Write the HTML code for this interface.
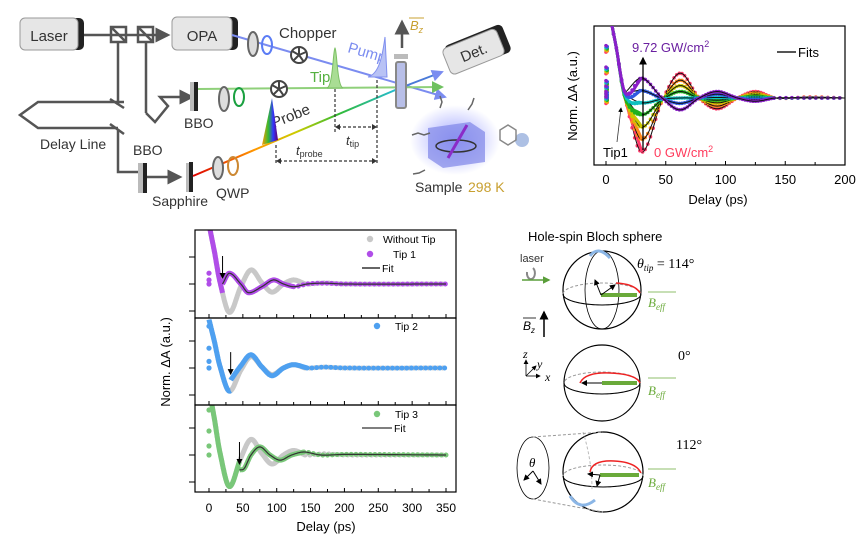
<!DOCTYPE html>
<html><head><meta charset="utf-8"><style>
html,body{margin:0;padding:0;background:#fff;}
svg{display:block;font-family:"Liberation Sans",Arial,sans-serif;}
</style></head><body>
<svg id="fig" width="863" height="548" viewBox="0 0 863 548" xmlns="http://www.w3.org/2000/svg">
<defs>
<marker id="ah" markerWidth="6" markerHeight="6" refX="5" refY="3" orient="auto"><path d="M0,0 L6,3 L0,6 z" fill="#555"/></marker>
<marker id="ahb" markerWidth="6" markerHeight="6" refX="5" refY="3" orient="auto"><path d="M0,0 L6,3 L0,6 z" fill="#000"/></marker>
<marker id="ahbl" markerWidth="6" markerHeight="6" refX="5" refY="3" orient="auto"><path d="M0,0 L6,3 L0,6 z" fill="#7b8cf0"/></marker>
<marker id="ahg" markerWidth="6" markerHeight="6" refX="5" refY="3" orient="auto"><path d="M0,0 L6,3 L0,6 z" fill="#6fc160"/></marker>
<marker id="ahgr" markerWidth="5" markerHeight="5" refX="4" refY="2.5" orient="auto"><path d="M0,0 L5,2.5 L0,5 z" fill="#5a9e3a"/></marker>
<linearGradient id="rain" x1="0" x2="1"><stop offset="0" stop-color="#d00"/><stop offset="0.3" stop-color="#f90"/><stop offset="0.5" stop-color="#cc0"/><stop offset="0.7" stop-color="#3b3"/><stop offset="1" stop-color="#2bd"/></linearGradient>
<linearGradient id="rainv" x1="0" x2="1"><stop offset="0" stop-color="#f90"/><stop offset="0.4" stop-color="#3b3"/><stop offset="0.7" stop-color="#33f"/><stop offset="1" stop-color="#606"/></linearGradient>
<radialGradient id="glow"><stop offset="0" stop-color="#8a90ff" stop-opacity="0.8"/><stop offset="1" stop-color="#8a90ff" stop-opacity="0"/></radialGradient>
<clipPath id="clipTR"><rect x="594" y="26" width="251" height="139"/></clipPath>
<clipPath id="clipP1"><rect x="195" y="230" width="261" height="88"/></clipPath>
<clipPath id="clipP2"><rect x="195" y="318" width="261" height="87"/></clipPath>
<clipPath id="clipP3"><rect x="195" y="405" width="261" height="87"/></clipPath>
</defs>

<!-- ===== Schematic ===== -->
<g>
 <g>
  <rect x="22" y="18" width="62" height="32" rx="5" fill="#222"/>
  <rect x="20" y="18" width="58" height="32" rx="5" fill="#e6e6e6" stroke="#999"/>
  <text x="49" y="41" font-size="15" text-anchor="middle" fill="#333">Laser</text>
 </g>
 <g>
  <rect x="174" y="17" width="64" height="33" rx="5" fill="#222"/>
  <rect x="172" y="17" width="60" height="33" rx="5" fill="#e6e6e6" stroke="#999"/>
  <text x="202" y="41" font-size="15" text-anchor="middle" fill="#333">OPA</text>
 </g>
 <g stroke="#555" stroke-width="2.5" fill="none">
  <line x1="84" y1="35" x2="168" y2="35" marker-end="url(#ah)"/>
  <rect x="111" y="27" width="15" height="15"/><line x1="111" y1="27" x2="126" y2="42"/>
  <rect x="138" y="27" width="15" height="15"/><line x1="138" y1="27" x2="153" y2="42"/>
  <line x1="118" y1="42" x2="118" y2="105"/>
  <line x1="146" y1="42" x2="146" y2="113"/>
  <path d="M146,113 L155,122 L168,106 L160,97 L180,97" />
  <line x1="180" y1="97" x2="192" y2="97" marker-end="url(#ah)"/>
  <path d="M124,102 L38,102 L20,115 L38,128 L118,128"/>
  <line x1="110" y1="99" x2="124" y2="108"/>
  <line x1="110" y1="124" x2="124" y2="134"/>
  <path d="M118,130 L118,172 L140,172"/>
  <line x1="146" y1="177" x2="180" y2="177" marker-end="url(#ah)"/>
 </g>
 <text x="40" y="149" font-size="14" fill="#333">Delay Line</text>
 <text x="133" y="155" font-size="14" fill="#333">BBO</text>
 <text x="184" y="128" font-size="14" fill="#333">BBO</text>
 <text x="152" y="206" font-size="14" fill="#333">Sapphire</text>
 <text x="216" y="198" font-size="14" fill="#333">QWP</text>
 <rect x="138" y="163" width="8" height="30" fill="#bbb"/><rect x="143" y="163" width="4" height="30" fill="#222"/>
 <rect x="186" y="163" width="5" height="29" fill="#bbb"/><rect x="189" y="162" width="4" height="30" fill="#222"/>
 <rect x="190" y="82" width="5" height="29" fill="#bbb"/><rect x="194" y="82" width="4" height="29" fill="#222"/>
 <!-- beams -->
 <line x1="232" y1="35" x2="445" y2="97" stroke="#7b8cf0" stroke-width="2" marker-end="url(#ahbl)"/>
 <line x1="198" y1="89" x2="442" y2="87" stroke="#8fd07a" stroke-width="2" marker-end="url(#ahg)"/>
 <line x1="193" y1="176" x2="400" y2="88" stroke="url(#rain)" stroke-width="2"/>
 <line x1="400" y1="88" x2="442" y2="72" stroke="#4a7ad8" stroke-width="2" marker-end="url(#ahbl)"/>
 <!-- optics -->
 <ellipse cx="253" cy="44" rx="5" ry="12" fill="#ddd" stroke="#666" stroke-width="2"/>
 <ellipse cx="267" cy="45" rx="5" ry="9" fill="none" stroke="#5b7cf5" stroke-width="2"/>
 <ellipse cx="224" cy="99" rx="5" ry="12" fill="#ddd" stroke="#666" stroke-width="2"/>
 <ellipse cx="239" cy="97" rx="5" ry="9" fill="none" stroke="#1aa040" stroke-width="2"/>
 <ellipse cx="218" cy="168" rx="5" ry="11" fill="#ddd" stroke="#666" stroke-width="2"/>
 <ellipse cx="233" cy="166" rx="5" ry="9" fill="none" stroke="#c83" stroke-width="2"/>
 <g><circle cx="299" cy="55" r="8" fill="#fff" stroke="#444" stroke-width="2"/><path d="M299,55 L299,47 M299,55 L306,52 M299,55 L304,62 M299,55 L293,61 M299,55 L292,51" stroke="#444" stroke-width="2"/></g>
 <g><circle cx="279" cy="89" r="8" fill="#fff" stroke="#444" stroke-width="2"/><path d="M279,89 L279,81 M279,89 L286,86 M279,89 L284,96 M279,89 L273,95 M279,89 L272,85" stroke="#444" stroke-width="2"/></g>
 <text x="279" y="38" font-size="15" fill="#333">Chopper</text>
 <text x="347" y="52" font-size="15" fill="#7b8cf0" transform="rotate(16 347 52)">Pump</text>
 <text x="310" y="82" font-size="15" fill="#55b040">Tip</text>
 <text x="274" y="128" font-size="15" fill="#333" transform="rotate(-22 274 128)">Probe</text>
 <path d="M327,88 C333,86 333,50 335,48 C337,50 337,86 343,88 Z" fill="#a9dd94" stroke="#7cc064"/>
 <path d="M368,77 C378,74 382,60 385,37 L387,77 Z" fill="#b8c2f5" stroke="#8090ef"/>
 <path d="M262,145 L272,98 L278,140 Z" fill="url(#rainv)"/>
 <!-- sample cuvette -->
 <rect x="396" y="62" width="10" height="46" rx="2" fill="#b8bfe8" stroke="#888" stroke-width="2"/>
 <rect x="394" y="54" width="14" height="5" fill="#bbb"/>
 <line x1="402" y1="48" x2="402" y2="22" stroke="#555" stroke-width="2.5" marker-end="url(#ah)"/>
 <text x="410" y="30" font-size="13" font-style="italic" fill="#c8a030">B<tspan font-size="9" dy="3">z</tspan></text>
 <line x1="409" y1="18" x2="424" y2="18" stroke="#c8a030"/>
 <g transform="rotate(-22 475 50)">
  <rect x="447" y="35" width="62" height="30" rx="5" fill="#222"/>
  <rect x="444" y="37" width="58" height="28" rx="5" fill="#e6e6e6" stroke="#999"/>
  <text x="473" y="57" font-size="15" text-anchor="middle" fill="#333">Det.</text>
 </g>
 <!-- dashed timing -->
 <g stroke="#333" stroke-width="1.2" stroke-dasharray="3,2" fill="none">
  <line x1="335" y1="89" x2="335" y2="133"/>
  <line x1="377" y1="80" x2="377" y2="165"/>
  <line x1="276" y1="145" x2="276" y2="165"/>
  <line x1="338" y1="127" x2="374" y2="127"/>
  <line x1="279" y1="161" x2="374" y2="161"/>
 </g>
 <path d="M335,127 l5,-3 v6 z M377,127 l-5,-3 v6 z M276,161 l5,-3 v6 z M377,161 l-5,-3 v6 z" fill="#333"/>
 <text x="346" y="145" font-size="13" font-style="italic" fill="#333">t<tspan font-size="9" font-style="normal" dy="2">tip</tspan></text>
 <text x="296" y="155" font-size="13" font-style="italic" fill="#333">t<tspan font-size="9" font-style="normal" dy="2">probe</tspan></text>
 <!-- sample cube -->
 <g>
  <ellipse cx="455" cy="140" rx="45" ry="35" fill="url(#glow)"/>
  <path d="M428,128 L470,122 L485,132 L485,162 L443,168 L428,158 Z" fill="#7f86e8" opacity="0.7"/>
  <ellipse cx="456" cy="146" rx="20" ry="6" fill="none" stroke="#333" stroke-width="1.5"/>
  <line x1="448" y1="158" x2="467" y2="125" stroke="#8a2bc8" stroke-width="3"/>
  <path d="M412,135 l6,-2 l6,2 l6,-2 M440,108 l2,-6 l-2,-6 M468,110 l4,-6 l2,-6 M425,170 l-6,3 l-6,1" stroke="#666" stroke-width="1.5" fill="none"/>
  <circle cx="522" cy="140" r="7" fill="#8aa5d8" opacity="0.7"/>
  <path d="M500,130 l8,-5 l8,5 l0,10 l-8,5 l-8,-5 z" fill="none" stroke="#888" stroke-width="1.5"/>
 </g>
 <text x="415" y="192" font-size="14" fill="#333">Sample</text>
 <text x="468" y="192" font-size="14" fill="#c8a030">298 K</text>
</g>

<!-- ===== Top-right chart ===== -->
<g id="trChart">
 <rect x="594" y="26" width="251" height="139" fill="none" stroke="#000" stroke-width="1.2"/>
 <g id="trMarks" clip-path="url(#clipTR)"></g>
 <g id="trAxis"></g>
 <text x="718" y="204" font-size="13" text-anchor="middle">Delay (ps)</text>
 <text x="0" y="0" font-size="13" text-anchor="middle" transform="translate(577 96) rotate(-90)">Norm. ΔA (a.u.)</text>
 <line x1="643" y1="150" x2="643" y2="58" stroke="#000" stroke-width="1.3" marker-end="url(#ahb)"/>
 <text x="632" y="52" font-size="13" fill="#6a1fa0">9.72 GW/cm<tspan font-size="9" dy="-5">2</tspan></text>
 <text x="654" y="157" font-size="13" fill="#ff3b5c">0 GW/cm<tspan font-size="9" dy="-5">2</tspan></text>
 <text x="603" y="157" font-size="13">Tip1</text>
 <line x1="617" y1="142" x2="621" y2="108" stroke="#333" stroke-width="0.8" marker-end="url(#ahb)"/>
 <line x1="777" y1="52" x2="796" y2="52" stroke="#555" stroke-width="2"/>
 <text x="798" y="57" font-size="13">Fits</text>
</g>

<!-- ===== Bottom-left chart ===== -->
<g id="blChart">
 <g id="blMarks"></g>
 <g id="blAxis"></g>
 <text x="326" y="531" font-size="13" text-anchor="middle">Delay (ps)</text>
 <text x="0" y="0" font-size="13" text-anchor="middle" transform="translate(170 362) rotate(-90)">Norm. ΔA (a.u.)</text>
 <g font-size="10.5">
  <circle cx="370" cy="239" r="3.2" fill="#c8c8c8"/><text x="383" y="243">Without Tip</text>
  <circle cx="370" cy="254" r="3.2" fill="#b04de8"/><text x="393" y="258">Tip 1</text>
  <line x1="362" y1="268" x2="380" y2="268" stroke="#333" stroke-width="1.5"/><text x="382" y="272">Fit</text>
  <circle cx="377" cy="326" r="3.2" fill="#4ea0f0"/><text x="395" y="330">Tip 2</text>
  <circle cx="377" cy="414" r="3.2" fill="#79c779"/><text x="395" y="418">Tip 3</text>
  <line x1="362" y1="428" x2="392" y2="428" stroke="#333" stroke-width="1.2"/><text x="394" y="432">Fit</text>
 </g>
</g>

<!-- ===== Bloch spheres ===== -->
<g>
 <text x="528" y="241" font-size="13">Hole-spin Bloch sphere</text>
 <text x="520" y="262" font-size="11" fill="#333">laser</text>
 <path d="M527,272 a4,6 0 1 0 6,-4" fill="none" stroke="#888" stroke-width="2"/>
 <line x1="522" y1="280" x2="549" y2="280" stroke="#5a9e3a" stroke-width="1.5" marker-end="url(#ahgr)"/>
 <text x="523" y="330" font-size="12" font-style="italic">B<tspan font-size="8" dy="3">z</tspan></text>
 <line x1="523" y1="318" x2="536" y2="318" stroke="#000" stroke-width="0.8"/>
 <line x1="544" y1="337" x2="544" y2="312" stroke="#000" stroke-width="1.5" marker-end="url(#ahb)"/>
 <!-- sphere 1 -->
 <g>
  <circle cx="602" cy="290" r="39" fill="none" stroke="#000" stroke-width="1.2"/>
  <ellipse cx="602" cy="294" rx="39" ry="11" fill="none" stroke="#999" stroke-dasharray="3,2"/>
  <path d="M563,294 a39,11 0 0 0 78,0" fill="none" stroke="#000"/>
  <ellipse cx="602" cy="290" rx="17" ry="39" fill="none" stroke="#000" stroke-width="0.8"/>
  <path d="M616,283 Q635,284 640,293" fill="none" stroke="#e22" stroke-width="1.5"/>
  <line x1="601" y1="295" x2="637" y2="295" stroke="#6aaa3a" stroke-width="4"/>
  <line x1="601" y1="295" x2="595" y2="280" stroke="#000" marker-end="url(#ahb)"/>
  <line x1="601" y1="295" x2="615" y2="285" stroke="#000" marker-end="url(#ahb)"/>
  <path d="M590,256 Q598,245 610,258" fill="none" stroke="#8bb6e6" stroke-width="3"/>
 </g>
 <text x="637" y="268" font-size="14" font-family="Liberation Serif,serif"><tspan font-style="italic">θ</tspan><tspan font-style="italic" font-size="9" dy="3">tip</tspan><tspan dy="-3"> = 114°</tspan></text>
 <text x="648" y="307" font-size="13" font-style="italic" fill="#6aaa3a" font-family="Liberation Serif,serif">B<tspan font-size="9" dy="3">eff</tspan></text>
 <line x1="648" y1="292" x2="676" y2="292" stroke="#6aaa3a" stroke-width="0.8"/>
 <!-- sphere 2 -->
 <g>
  <circle cx="602" cy="383" r="38" fill="none" stroke="#000" stroke-width="1.2"/>
  <ellipse cx="602" cy="383" rx="38" ry="11" fill="none" stroke="#999" stroke-dasharray="3,2"/>
  <path d="M564,383 a38,11 0 0 0 76,0" fill="none" stroke="#000"/>
  <path d="M580,383 Q585,372 610,373 Q636,374 640,383" fill="none" stroke="#e22" stroke-width="1.5"/>
  <line x1="602" y1="383" x2="637" y2="383" stroke="#6aaa3a" stroke-width="4"/>
  <line x1="602" y1="383" x2="582" y2="383" stroke="#000" marker-end="url(#ahb)"/>
 </g>
 <text x="678" y="360" font-size="14" font-family="Liberation Serif,serif">0°</text>
 <text x="648" y="395" font-size="13" font-style="italic" fill="#6aaa3a" font-family="Liberation Serif,serif">B<tspan font-size="9" dy="3">eff</tspan></text>
 <line x1="648" y1="378" x2="676" y2="378" stroke="#6aaa3a" stroke-width="0.8"/>
 <g stroke="#000" stroke-width="0.8" fill="none">
  <line x1="526" y1="376" x2="526" y2="360" marker-end="url(#ahb)"/>
  <line x1="526" y1="376" x2="540" y2="376" marker-end="url(#ahb)"/>
  <line x1="526" y1="376" x2="536" y2="366" marker-end="url(#ahb)"/>
 </g>
 <text x="523" y="358" font-size="12" font-style="italic" font-family="Liberation Serif,serif">z</text>
 <text x="537" y="368" font-size="12" font-style="italic" font-family="Liberation Serif,serif">y</text>
 <text x="545" y="381" font-size="12" font-style="italic" font-family="Liberation Serif,serif">x</text>
 <!-- sphere 3 -->
 <g>
  <circle cx="603" cy="472" r="40" fill="none" stroke="#000" stroke-width="1.2"/>
  <ellipse cx="603" cy="476" rx="40" ry="11" fill="none" stroke="#999" stroke-dasharray="3,2"/>
  <path d="M563,476 a40,11 0 0 0 80,0" fill="none" stroke="#000"/>
  <path d="M583,432 Q592,460 592,490" fill="none" stroke="#bbb" stroke-dasharray="3,2"/>
  <path d="M590,472 Q592,460 614,461 Q636,462 641,473" fill="none" stroke="#e22" stroke-width="1.5"/>
  <line x1="600" y1="475" x2="639" y2="475" stroke="#6aaa3a" stroke-width="4"/>
  <line x1="600" y1="475" x2="588" y2="474" stroke="#000" marker-end="url(#ahb)"/>
  <line x1="600" y1="475" x2="597" y2="486" stroke="#000" marker-end="url(#ahb)"/>
  <path d="M570,496 Q580,512 595,500" fill="none" stroke="#8bb6e6" stroke-width="3"/>
  <ellipse cx="533" cy="468" rx="16" ry="31" fill="none" stroke="#000" stroke-width="0.8"/>
  <line x1="533" y1="437" x2="603" y2="432" stroke="#999" stroke-dasharray="3,2"/>
  <line x1="533" y1="499" x2="603" y2="512" stroke="#999" stroke-dasharray="3,2"/>
  <line x1="533" y1="471" x2="524" y2="480" stroke="#000" marker-end="url(#ahb)"/>
  <line x1="533" y1="471" x2="541" y2="484" stroke="#000" marker-end="url(#ahb)"/>
 </g>
 <text x="529" y="467" font-size="13" font-style="italic" font-family="Liberation Serif,serif">θ</text>
 <text x="676" y="449" font-size="14" font-family="Liberation Serif,serif">112°</text>
 <text x="648" y="487" font-size="13" font-style="italic" fill="#6aaa3a" font-family="Liberation Serif,serif">B<tspan font-size="9" dy="3">eff</tspan></text>
 <line x1="648" y1="469" x2="676" y2="469" stroke="#6aaa3a" stroke-width="0.8"/>
</g>
</svg>

<script>
// ---------- Top-right chart data ----------
const trDelays = [0, 8, 16, 30, 47, 62, 78, 93, 110, 125, 142, 170, 200];
const trPowers = ["0", "1.6", "3.2", "4.9", "6.5", "8.1", "9.72"];
const trSeries0 = [1.9, 1.0, 0.0, -1.0, -0.05, 0.46, 0.0, -0.20, 0.0, 0.12, 0.0, 0.02, 0];
const trSeries1 = [1.9, 1.0, 0.0, -0.77, -0.05, 0.33, 0.0, -0.15, 0.0, 0.09, 0.0, 0.01, 0];
const trSeries2 = [1.9, 1.0, 0.0, -0.54, -0.04, 0.23, 0.0, -0.09, 0.0, 0.06, 0.0, 0.01, 0];
const trSeries3 = [1.9, 1.0, 0.0, -0.31, -0.03, 0.12, 0.0, -0.04, 0.0, 0.03, 0.0, 0.0, 0];
const trSeries4 = [1.9, 1.0, 0.05, -0.09, -0.02, 0.0, 0.0, 0.01, 0.0, 0.0, 0.0, 0.0, 0];
const trSeries5 = [1.9, 1.0, 0.08, 0.14, -0.01, -0.10, 0.0, 0.07, 0.0, -0.03, 0.0, 0.0, 0];
const trSeries6 = [1.9, 1.0, 0.1, 0.37, 0.0, -0.22, 0.0, 0.12, 0.0, -0.06, 0.0, 0.0, 0];
const trColors = ["#ff3b6b", "#ff8a1c", "#c8c800", "#20b020", "#10c0c0", "#2f5ae0", "#8a1fc8"];
const trXTicks = [0, 50, 100, 150, 200];
const trZeroDots = [0.0, 0.1, -0.05, 0.2, 0.45, 0.85, -0.1];

// ---------- Bottom-left chart data ----------
const blXTicks = [0, 50, 100, 150, 200, 250, 300, 350];
const grayDelays = [0, 8, 16, 30, 47, 62, 78, 93, 110, 125, 142, 170, 200, 350];
const grayValues = [2.2, 1.2, 0.1, -1.05, -0.1, 0.52, 0.05, -0.3, 0.0, 0.15, 0.0, 0.04, 0.0, 0.0];
const tip1Delays = [20, 30, 47, 58, 78, 95, 110, 125, 145, 170, 200, 350];
const tip1Values = [0.0, 0.4, 0.0, -0.32, -0.1, 0.15, 0.0, -0.1, 0.0, 0.03, 0.0, 0.0];
const tip2Delays = [32, 47, 62, 78, 93, 110, 125, 145, 170, 200, 350];
const tip2Values = [-0.55, 0.1, 0.6, 0.05, -0.35, 0.0, 0.15, 0.0, 0.04, 0.0, 0.0];
const tip3Delays = [45, 52, 62, 75, 90, 105, 122, 140, 165, 200, 350];
const tip3Values = [-0.5, -0.45, 0.0, 0.27, 0.0, -0.17, 0.0, 0.1, 0.0, 0.02, 0.0];
const zeroDots1 = [0.4, 0.0, 0.15];
const zeroDots2 = [1.9, 0.9, 0.3, 0.0];
const zeroDots3 = [1.5, 0.8, 0.3, 0.0];

const NS = "http://www.w3.org/2000/svg";
function mk(tag, attrs, parent) {
  const e = document.createElementNS(NS, tag);
  for (const k in attrs) e.setAttribute(k, attrs[k]);
  parent.appendChild(e);
  return e;
}
function interp(xs, ys, x) {
  const n = xs.length;
  if (x <= xs[0]) return ys[0];
  if (x >= xs[n - 1]) return ys[n - 1];
  let i = 0;
  while (x > xs[i + 1]) i++;
  const h = xs[i + 1] - xs[i], t = (x - xs[i]) / h;
  const m = j => {
    if (j === 0) return (ys[1] - ys[0]) / (xs[1] - xs[0]);
    if (j === n - 1) return (ys[n - 1] - ys[n - 2]) / (xs[n - 1] - xs[n - 2]);
    return (ys[j + 1] - ys[j - 1]) / (xs[j + 1] - xs[j - 1]);
  };
  const t2 = t * t, t3 = t2 * t;
  return (2*t3 - 3*t2 + 1) * ys[i] + (t3 - 2*t2 + t) * h * m(i) + (-2*t3 + 3*t2) * ys[i + 1] + (t3 - t2) * h * m(i + 1);
}
function curvePath(xs, ys, sx, sy, step) {
  let d = "";
  for (let x = xs[0]; x <= xs[xs.length - 1] + 1e-9; x += step) {
    d += (d ? " L" : "M") + sx(x).toFixed(1) + "," + sy(interp(xs, ys, x)).toFixed(1);
  }
  return d;
}

// ---- Top-right ----
(function () {
  const sx = v => 606 + v * (845 - 606) / 200;
  const sy = v => 98 - v * 54;
  const marks = document.getElementById("trMarks");
  const axis = document.getElementById("trAxis");
  const all = [trSeries0, trSeries1, trSeries2, trSeries3, trSeries4, trSeries5, trSeries6];
  all.forEach((ser, si) => {
    const g = mk("g", {}, marks);
    
    
    for (let x = 2; x <= 200; x += (x < 140 ? 2.2 : 5)) {
      const c = mk("circle", { cx: sx(x).toFixed(1), cy: sy(interp(trDelays, ser, x)).toFixed(1), r: 1.8, fill: trColors[si] }, g);
      
      
    }
    trZeroDots.forEach((v, k) => {
      const c = mk("circle", { cx: sx(0) + (si % 2) * 1.2, cy: sy(v + si * 0.02), r: 1.8, fill: trColors[si] }, g);
      
      
    });
    const p = mk("path", { d: curvePath(trDelays.slice(2), ser.slice(2), sx, sy, 1), fill: "none", stroke: "#111", "stroke-width": 1 }, g);
    
    
    const p2 = mk("path", { d: curvePath(trDelays.slice(0, 4), ser.slice(0, 4), sx, sy, 0.5), fill: "none", stroke: trColors[si], "stroke-width": 3 }, g);
    
    
  });
  trXTicks.forEach(t => {
    const l = mk("line", { x1: sx(t), x2: sx(t), y1: 165, y2: 161, stroke: "#000" }, axis);
    
    
    const tx = mk("text", { x: sx(t), y: 184, "font-size": 13, "text-anchor": "middle" }, axis);
    tx.textContent = t;
    
    
    if (t < 200) {
      const m = mk("line", { x1: sx(t + 25), x2: sx(t + 25), y1: 165, y2: 162, stroke: "#000" }, axis);
      
      
    }
  });
})();

// ---- Bottom-left ----
(function () {
  const sx = v => 209 + v * (446 - 209) / 350;
  const marks = document.getElementById("blMarks");
  const axis = document.getElementById("blAxis");
  const panels = [
    { top: 230, bot: 318, base: 284, unit: 27, clip: "clipP1", tipD: tip1Delays, tipV: tip1Values, col: "#b04de8", fit: true, zero: zeroDots1, name: "tip1" },
    { top: 318, bot: 405, base: 368, unit: 22, clip: "clipP2", tipD: tip2Delays, tipV: tip2Values, col: "#4ea0f0", fit: false, zero: zeroDots2, name: "tip2" },
    { top: 405, bot: 492, base: 455, unit: 30, clip: "clipP3", tipD: tip3Delays, tipV: tip3Values, col: "#79c779", fit: true, zero: zeroDots3, name: "tip3" }
  ];
  panels.forEach(P => {
    const sy = v => P.base - v * P.unit;
    const fr = mk("rect", { x: 195, y: P.top, width: 261, height: P.bot - P.top, fill: "none", stroke: "#000", "stroke-width": 1.2 }, axis);
    
    
    const g = mk("g", { "clip-path": "url(#" + P.clip + ")" }, marks);
    
    
    const gp = mk("path", { d: curvePath(grayDelays.slice(0, 11), grayValues.slice(0, 11), sx, sy, 0.5), fill: "none", stroke: "#c8c8c8", "stroke-width": 5 }, g);
    
    
    for (let x = 142; x <= 350; x += 7) {
      const c = mk("circle", { cx: sx(x), cy: sy(interp(grayDelays, grayValues, x)), r: 2.5, fill: "#c8c8c8" }, g);
      
      
    }
    const t0 = P.tipD[0];
    const pre = mk("path", { d: curvePath(grayDelays, grayValues, sx, sy, 0.5).split(" L").filter((s, i) => i * 0.5 <= t0).join(" L"), fill: "none", stroke: P.col, "stroke-width": 5 }, g);
    
    
    const lim = P.tipD[P.tipD.length - 1];
    const cont = curvePath(P.tipD.slice(0, 8), P.tipV.slice(0, 8), sx, sy, 0.5);
    const tp = mk("path", { d: cont, fill: "none", stroke: P.col, "stroke-width": 5 }, g);
    
    
    for (let x = P.tipD[7]; x <= lim; x += 7) {
      const c = mk("circle", { cx: sx(x), cy: sy(interp(P.tipD, P.tipV, x)), r: 2.5, fill: P.col }, g);
      
      
    }
    P.zero.forEach(v => {
      const c = mk("circle", { cx: sx(0), cy: sy(v), r: 2.6, fill: P.col }, g);
      
      
    });
    if (P.fit) {
      const f = mk("path", { d: curvePath(P.tipD, P.tipV, sx, sy, 1), fill: "none", stroke: "#333", "stroke-width": 1.2 }, g);
      
      
    }
    const yArr = sy(interp(P.tipD, P.tipV, t0)) - 6;
    const a = mk("line", { x1: sx(t0), x2: sx(t0), y1: yArr - 22, y2: yArr, stroke: "#000", "stroke-width": 1, "marker-end": "url(#ahb)" }, axis);
    
    
    [-1, 0, 1, 2].forEach(v => {
      const y = P.base - v * 27;
      if (y > P.top + 1 && y < P.bot - 1) {
        const l = mk("line", { x1: 189, x2: 195, y1: y, y2: y, stroke: "#000" }, axis);
        
        
      }
    });
    blXTicks.forEach(t => {
      const l = mk("line", { x1: sx(t), x2: sx(t), y1: P.bot, y2: P.bot - 4, stroke: "#000" }, axis);
      
      
      if (t < 350) {
        const m = mk("line", { x1: sx(t + 25), x2: sx(t + 25), y1: P.bot, y2: P.bot - 3, stroke: "#000" }, axis);
        
        
      }
    });
  });
  blXTicks.forEach(t => {
    const tx = mk("text", { x: sx(t), y: 512, "font-size": 12, "text-anchor": "middle" }, axis);
    tx.textContent = t;
    
    
  });
})();
</script>
</body></html>
